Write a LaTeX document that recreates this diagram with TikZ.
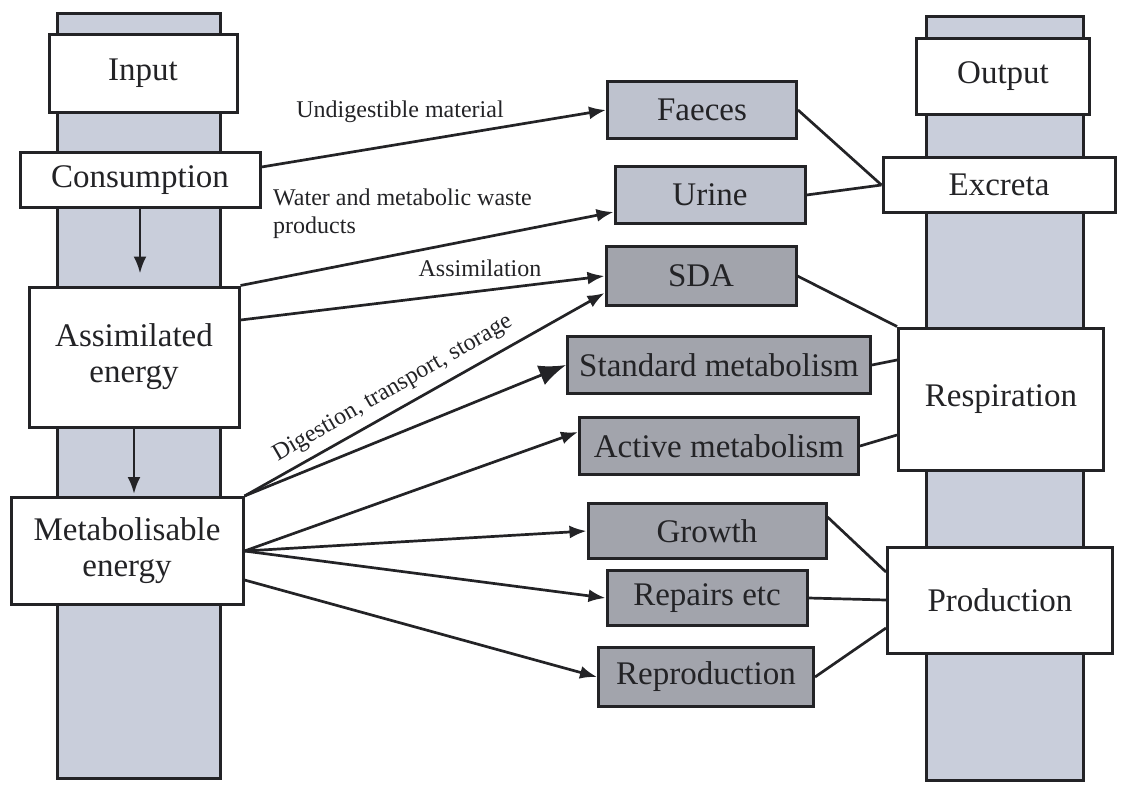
\documentclass[tikz,border=0pt]{standalone}
\usepackage{fontspec}
\setmainfont{Liberation Serif}
\usetikzlibrary{arrows.meta}
\definecolor{barfill}{RGB}{201,206,219}
\definecolor{palebox}{RGB}{190,194,206}
\definecolor{darkbox}{RGB}{162,164,172}
\definecolor{ink}{RGB}{35,35,38}

\begin{document}
\begin{tikzpicture}[x=1pt,y=-1pt,
    box/.style={draw=ink,line width=3pt,fill=white,inner sep=0pt,text=ink,
      font=\fontsize{33}{36}\selectfont,align=center},
    pale/.style={box,fill=palebox},
    dark/.style={box,fill=darkbox},
    bar/.style={draw=ink,line width=3pt,fill=barfill},
    flow/.style={draw=ink,line width=2.7pt,-{Latex[length=17pt,width=13pt]}},
    link/.style={draw=ink,line width=2.7pt},
    lbl/.style={text=ink,font=\fontsize{24}{28}\selectfont,inner sep=0pt}]
  \useasboundingbox (0,0) rectangle (1121,790);

  % background columns
  \draw[bar] (57,13) rectangle (220,778);
  \draw[bar] (926,16) rectangle (1083,780);

  % input column
  \node[box,minimum width=188pt,minimum height=78pt] (input) at (143,73) {Input};
  \node[box,minimum width=240pt,minimum height=55pt] (consum) at (140,180) {Consumption};
  \node[box,minimum width=210pt,minimum height=140pt] (assim) at (134,357) {Assimilated\\energy};
  \node[box,minimum width=232pt,minimum height=107pt] (metab) at (127,551) {Metabolisable\\energy};

  % output column
  \node[box,minimum width=173pt,minimum height=76pt] (output) at (1003,76) {Output};
  \node[box,minimum width=232pt,minimum height=55pt] (excreta) at (999,185) {Excreta};
  \node[box,minimum width=205pt,minimum height=142pt] (resp) at (1001,399) {Respiration};
  \node[box,minimum width=225pt,minimum height=106pt] (prod) at (1000,600) {Production};

  % middle
  \node[pale,minimum width=189pt,minimum height=57pt] (faeces) at (702,110) {Faeces};
  \node[pale,minimum width=190pt,minimum height=57pt] (urine) at (710,195) {Urine};
  \node[dark,minimum width=190pt,minimum height=59pt] (sda) at (701,276) {SDA};
  \node[dark,minimum width=303pt,minimum height=57pt] (stdmet) at (719,365) {Standard metabolism};
  \node[dark,minimum width=279pt,minimum height=57pt] (actmet) at (719,446) {Active metabolism};
  \node[dark,minimum width=238pt,minimum height=55pt] (growth) at (707,531) {Growth};
  \node[dark,minimum width=200pt,minimum height=55pt] (repairs) at (707,598) {Repairs etc};
  \node[dark,minimum width=215pt,minimum height=59pt] (reprod) at (706,677) {Reproduction};

  % down the input column
  \draw[flow,shorten >=12pt] (consum.south) -- (consum.south |- assim.north);
  \draw[flow,shorten >=2pt] (assim.south) -- (assim.south |- metab.north);

  % inputs to compartments
  \draw[flow] ([yshift=13pt]consum.east) -- (faeces.west);
  \draw[flow] (assim.north east) -- ([yshift=-17pt]urine.west);
  \draw[flow] ([yshift=37pt]assim.east) -- (sda.west);
  \draw[flow] (metab.north east) -- ([yshift=-17pt]sda.west);
  \draw[flow,-{Latex[length=27pt,width=21pt]}] (metab.north east) -- (stdmet.west);
  \draw[flow] (metab.east) -- ([yshift=14pt]actmet.west);
  \draw[flow] (metab.east) -- (growth.west);
  \draw[flow] (metab.east) -- (repairs.west);
  \draw[flow] ([yshift=-29pt]metab.east) -- (reprod.west);

  % compartments to outputs
  \draw[link] (faeces.east) -- (excreta.west);
  \draw[link] (urine.east) -- (excreta.west);
  \draw[link] (sda.east) -- (resp.north west);
  \draw[link] (stdmet.east) -- ([yshift=39pt]resp.west);
  \draw[link] (actmet.east) -- ([yshift=-36pt]resp.west);
  \draw[link] ([yshift=14pt]growth.east) -- ([yshift=28pt]prod.west);
  \draw[link] (repairs.east) -- (prod.west);
  \draw[link] (reprod.east) -- ([yshift=-28pt]prod.west);

  % labels
  \node[lbl] (lundig) at (400,112) {Undigestible material};
  \node[lbl,anchor=west,align=left] (lwater) at (273,214) {Water and metabolic waste\\products};
  \node[lbl] (lassim) at (480,268) {Assimilation};
  \node[lbl,rotate=30] (ldig) at (393,389) {Digestion, transport, storage};
\end{tikzpicture}
\end{document}
